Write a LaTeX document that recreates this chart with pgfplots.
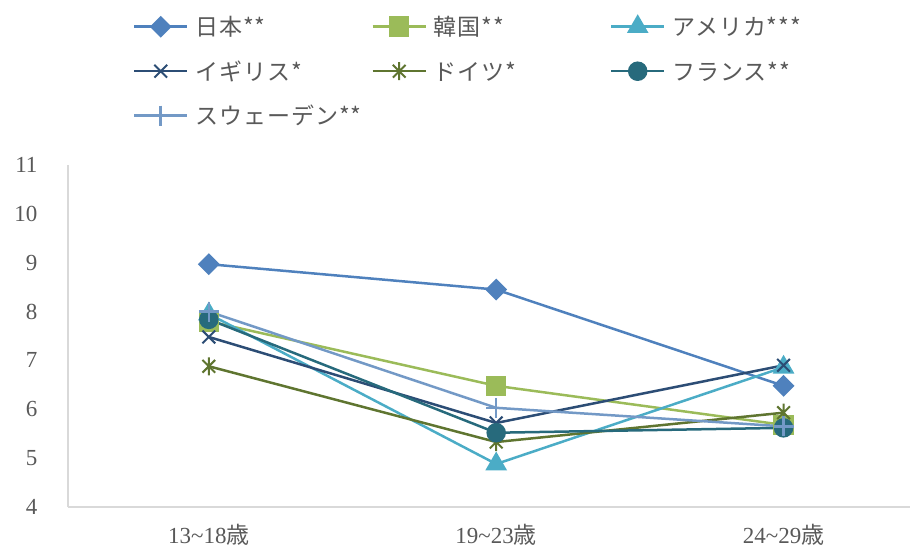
\documentclass[border=0pt]{standalone}
\usepackage{fontspec}
\setmainfont{Liberation Serif}
\newfontfamily\cjk{Noto Sans CJK JP}
\newfontfamily\cjkl[LetterSpace=4]{Noto Sans CJK JP}
\usepackage{pgfplots}
\pgfplotsset{compat=1.18}
\definecolor{cJP}{HTML}{4F81BD}
\definecolor{cKR}{HTML}{9BBB59}
\definecolor{cUS}{HTML}{4BACC6}
\definecolor{cUK}{HTML}{2C4D75}
\definecolor{cDE}{HTML}{5F7530}
\definecolor{cFR}{HTML}{276A7C}
\definecolor{cSE}{HTML}{7399C6}
\definecolor{txt}{HTML}{595959}
\definecolor{axl}{HTML}{D9D9D9}
\pgfdeclareplotmark{xplus}{%
  \pgfpathmoveto{\pgfqpoint{-.7071\pgfplotmarksize}{-.7071\pgfplotmarksize}}%
  \pgfpathlineto{\pgfqpoint{.7071\pgfplotmarksize}{.7071\pgfplotmarksize}}%
  \pgfpathmoveto{\pgfqpoint{-.7071\pgfplotmarksize}{.7071\pgfplotmarksize}}%
  \pgfpathlineto{\pgfqpoint{.7071\pgfplotmarksize}{-.7071\pgfplotmarksize}}%
  \pgfpathmoveto{\pgfqpoint{0pt}{-\pgfplotmarksize}}%
  \pgfpathlineto{\pgfqpoint{0pt}{\pgfplotmarksize}}%
  \pgfusepathqstroke}
\newcommand{\lt}[1]{\makebox[174bp][l]{\rule[-6bp]{0pt}{26bp}\cjkl #1}}
\begin{document}
\begin{tikzpicture}
\begin{axis}[
  name=ax,
  scale only axis, width=842bp, height=342bp,
  xmin=-0.49, xmax=2.44, ymin=4, ymax=11,
  ytick={4,5,6,7,8,9,10,11},
  xtick={0,1,2},
  xticklabels={13\textasciitilde 18{\cjk 歳},19\textasciitilde 23{\cjk 歳},24\textasciitilde 29{\cjk 歳}},
  axis x line*=bottom, axis y line*=left,
  axis line style={draw=axl, line width=2bp, -},
  major tick length=0pt, tick style={draw=none},
  tick label style={font=\fontsize{23bp}{26bp}\selectfont, text=txt},
  yticklabel style={xshift=-27bp},
  xticklabel style={yshift=-14bp},
  /pgf/number format/assume math mode=true,
  every axis plot/.append style={line width=2.5bp},
  legend columns=3,
  legend cell align=left,
  legend style={at={(0.0772,1.4415)}, anchor=north west, draw=none, inner sep=0pt, outer sep=0pt,
    font=\fontsize{23bp}{26bp}\selectfont, text=txt,
    /tikz/every even column/.style={column sep=0bp},
    /tikz/column 1/.style={column sep=5bp},
    /tikz/column 3/.style={column sep=5bp},
    /tikz/column 5/.style={column sep=5bp},
    row sep=19bp},
  legend image code/.code={\draw[mark repeat=2,mark phase=2] plot coordinates {(0bp,0bp) (26.5bp,0bp) (53bp,0bp)};},
]
\addplot[color=cJP, mark=square*, mark size=6.5bp, mark options={rotate=45, solid, fill=cJP}] coordinates {(0,8.97) (1,8.45) (2,6.48)};
\addlegendentry{\lt{日本**}}
\addplot[color=cKR, mark=square*, mark size=9bp, mark options={fill=cKR}] coordinates {(0,7.8) (1,6.48) (2,5.68)};
\addlegendentry{\lt{韓国**}}
\addplot[color=cUS, mark=triangle*, mark size=10bp, mark options={fill=cUS}] coordinates {(0,7.95) (1,4.88) (2,6.86)};
\addlegendentry{\lt{アメリカ***}}
\addplot[color=cUK, mark=x, mark size=9bp, mark options={line width=2bp}] coordinates {(0,7.48) (1,5.72) (2,6.9)};
\addlegendentry{\lt{イギリス*}}
\addplot[color=cDE, mark=xplus, mark size=9bp, mark options={line width=2bp}] coordinates {(0,6.88) (1,5.33) (2,5.93)};
\addlegendentry{\lt{ドイツ*}}
\addplot[color=cFR, mark=*, mark size=8.5bp, mark options={fill=cFR}] coordinates {(0,7.84) (1,5.52) (2,5.62)};
\addlegendentry{\lt{フランス**}}
\addplot[color=cSE, mark=+, mark size=10bp, mark options={line width=2.5bp}] coordinates {(0,8.0) (1,6.03) (2,5.65)};
\addlegendentry{\lt{スウェーデン**}}
\end{axis}
\path ([shift={(-68bp,-36bp)}]ax.south west) rectangle ([shift={(844bp,507bp)}]ax.south west);
\end{tikzpicture}
\end{document}
